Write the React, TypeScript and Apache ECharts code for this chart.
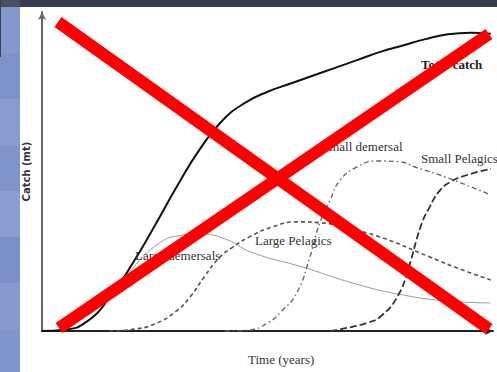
import React, { useEffect, useRef } from "react";
import * as echarts from "echarts";

// [time, catch] pairs (time 0-100, catch 0-100)
const totalCatch: number[][] = [
  [0, 0], [5, 0.4], [10, 3], [15, 10.5], [20, 21], [25, 33], [30, 45.5], [35, 57],
  [40, 66], [45, 71.5], [50, 75], [55, 77.5], [60, 80], [65, 82.5], [70, 85],
  [75, 87.5], [80, 89.5], [85, 91.5], [90, 93], [95, 93.5], [99.5, 93.2],
];
const largeDemersals: number[][] = [
  [0, 0], [5, 0.4], [10, 3], [15, 10.3], [20, 19.5], [25, 26.5], [30, 29.8], [35, 30.4],
  [40, 29.2], [46.8, 24.5], [57.9, 20], [69, 15], [78.9, 11.6], [90, 9.4], [99.5, 8.8],
];
const largePelagics: number[][] = [
  [15, 0], [20, 0.5], [25, 2.2], [30, 6.5], [33, 11], [36, 17], [39, 22.5],
  [42, 26], [46, 29.5], [51, 32.6], [56.5, 34.2], [62, 33.9], [67.5, 32.3],
  [74.9, 29.5], [86, 23.2], [93.3, 19.1], [99.5, 16],
];
const smallDemersal: number[][] = [
  [40.6, 0], [46, 0.3], [50, 2.5], [53, 6], [56.5, 12], [59.4, 23.2], [61.6, 33.9],
  [63.9, 41.1], [66.1, 47.3], [69.8, 51.4], [74.3, 53.3], [79.4, 53], [82.7, 51.4],
  [90, 48], [99.5, 42.6],
];
const smallPelagics: number[][] = [
  [63.9, 0], [67, 0.8], [72, 2.5], [75.2, 4.7], [78.9, 11], [81.2, 19.4], [84, 32.9],
  [86, 39], [88.2, 44], [90.5, 46.7], [94.2, 48.9], [99.5, 50.8],
];

const seriesNames = ["Total catch", "Large demersals", "Large Pelagics", "Small demersal", "Small Pelagics"];
const xAxisTitle = "Time (years)";
const yAxisTitle = "Catch (mt)";

export default function App() {
  const ref = useRef<HTMLDivElement>(null);
  useEffect(() => {
    if (!ref.current) return;
    const chart = echarts.init(ref.current, null, { renderer: "svg" });
    const serif = "'Liberation Serif', 'DejaVu Serif', serif";
    const bands = ["#8498cf", "#7d92ca", "#889cd1", "#7f94cb", "#8a9ed3", "#7b90c8", "#869ad0", "#8095cc"];
    const bandRects = bands.map((c, i) => ({
      type: "rect",
      shape: { x: 0, y: 7 + i * 46, width: 20, height: 46 },
      style: { fill: c },
      z: 1,
    }));
    const line = (data: number[][], name: string, lineStyle: any, z = 2) => ({
      name,
      type: "line",
      data,
      smooth: 0.5,
      showSymbol: false,
      lineStyle,
      z,
    });
    chart.setOption({
      animation: false,
      backgroundColor: "#ffffff",
      grid: { left: 42, right: 4, top: 12, bottom: 41 },
      xAxis: {
        type: "value",
        min: 0,
        max: 100,
        axisLine: { show: true, lineStyle: { color: "#222", width: 2 }, symbol: ["none", "arrow"], symbolSize: [6, 8] },
        axisTick: { show: false },
        axisLabel: { show: false },
        splitLine: { show: false },
      },
      yAxis: {
        type: "value",
        min: 0,
        max: 100,
        name: yAxisTitle,
        nameLocation: "middle",
        nameGap: 11,
        nameTextStyle: { fontFamily: "'DejaVu Sans', sans-serif", fontSize: 10, fontWeight: "bold", color: "#333" },
        axisLine: { show: true, lineStyle: { color: "#666", width: 2 }, symbol: ["none", "arrow"], symbolSize: [6, 8] },
        axisTick: { show: false },
        axisLabel: { show: false },
        splitLine: { show: false },
      },
      series: [
        line(totalCatch, seriesNames[0], { color: "#111", width: 2 }, 5),
        line(largeDemersals, seriesNames[1], { color: "#9a9a9a", width: 1 }),
        line(largePelagics, seriesNames[2], { color: "#555", width: 1.6, type: [4, 3] }),
        line(smallDemersal, seriesNames[3], { color: "#666", width: 1.4, type: [5, 3, 1.5, 3] }),
        line(smallPelagics, seriesNames[4], { color: "#333", width: 1.8, type: [7, 3] }),
      ],
      graphic: [
        { type: "rect", shape: { x: 0, y: 0, width: 20, height: 372 }, style: { fill: "#8196cc" }, z: 0 },
        ...bandRects,
        { type: "rect", shape: { x: 0, y: 0, width: 20, height: 7 }, style: { fill: "#4a4f60" }, z: 2 },
        { type: "rect", shape: { x: 0, y: 0, width: 1, height: 57 }, style: { fill: "#3d3d4a" }, z: 2 },
        { type: "rect", shape: { x: 20, y: 0, width: 477, height: 7 }, style: { fill: "#363c50" }, z: 2 },
        { type: "text", x: 421, y: 64, style: { text: seriesNames[0], fontFamily: serif, fontSize: 13, fontWeight: "bold", fill: "#222", verticalAlign: "middle" }, z: 50 },
        { type: "text", x: 135, y: 255, style: { text: seriesNames[1], fontFamily: serif, fontSize: 13, fill: "#333", verticalAlign: "middle" }, z: 50 },
        { type: "text", x: 255, y: 240, style: { text: seriesNames[2], fontFamily: serif, fontSize: 13, fill: "#333", verticalAlign: "middle" }, z: 50 },
        { type: "text", x: 322, y: 146, style: { text: seriesNames[3], fontFamily: serif, fontSize: 13, fill: "#333", verticalAlign: "middle" }, z: 50 },
        { type: "text", x: 421, y: 158, style: { text: seriesNames[4], fontFamily: serif, fontSize: 13, fill: "#333", verticalAlign: "middle" }, z: 50 },
        { type: "text", x: 248, y: 359, style: { text: xAxisTitle, fontFamily: serif, fontSize: 13, fill: "#333", verticalAlign: "middle" }, z: 50 },
        { type: "line", shape: { x1: 58, y1: 22, x2: 489, y2: 329 }, style: { stroke: "#ff0000", lineWidth: 12 }, z: 100 },
        { type: "line", shape: { x1: 59, y1: 328, x2: 489, y2: 34 }, style: { stroke: "#ff0000", lineWidth: 12 }, z: 100 },
      ],
    });
    return () => chart.dispose();
  }, []);
  return (
    <div
      ref={ref}
      style={{ position: "fixed", left: 0, top: 0, width: 497, height: 372, background: "#fff" }}
    />
  );
}
